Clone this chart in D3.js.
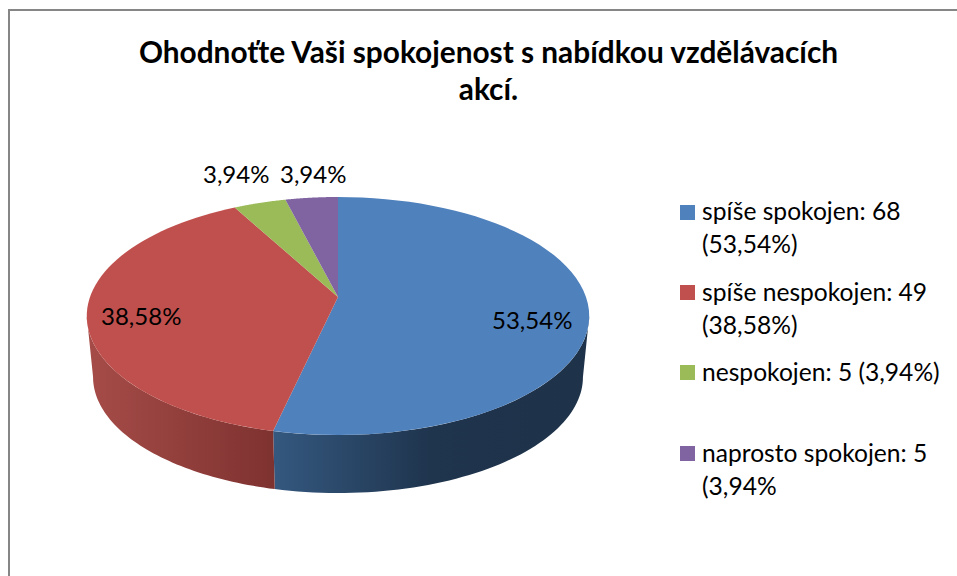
<!DOCTYPE html>
<html><head><meta charset="utf-8">
<style>html,body{margin:0;background:#fff}svg{display:block}text{font-family:Lato,"Noto Sans",sans-serif;fill:#000}</style>
<script src="https://cdn.jsdelivr.net/npm/d3@7/dist/d3.min.js"></script>
</head><body><svg id="c" width="957" height="576"></svg>
<script>
const categories = ["spíše spokojen","spíše nespokojen","nespokojen","naprosto spokojen"];
const values = [68,49,5,5];
const percentLabels = ["53,54%","38,58%","3,94%","3,94%"];
const legendLines = [["spíše spokojen: 68","(53,54%)"],["spíše nespokojen: 49","(38,58%)"],["nespokojen: 5 (3,94%)"],["naprosto spokojen: 5","(3,94%"]];
const titleLines = ["Ohodnoťte Vaši spokojenost s nabídkou vzdělávacích","akcí."];
const topColors = ["#4f81bd","#c0504d","#9bbb59","#8064a2"];

const svg = d3.select("#c");
const cx=338, cy=297, A=248, a=68.55, c=-0.1597, depthScale=0.975, vanishY=2756;
const proj = (t)=>{const x=Math.sin(t), y=-Math.cos(t), w=1+c*y; return [cx+A*x/w,(a*y+cy)/w];};
const low = p=>[cx+(p[0]-cx)*depthScale, vanishY+(p[1]-vanishY)*depthScale];
const arcPts=(t0,t1,f=p=>p)=>d3.range(0,61).map(i=>f(proj(t0+(t1-t0)*i/60)));
const line=d3.line();
const arcs=d3.pie().sort(null)(values);

// frame
svg.append("path").attr("d","M9 576V10H957").attr("fill","none").attr("stroke","#868686").attr("stroke-width",2);

// side gradients
const defs=svg.append("defs");
function grad(id,x1,x2,stops){
  const g=defs.append("linearGradient").attr("id",id).attr("gradientUnits","userSpaceOnUse").attr("x1",x1).attr("x2",x2).attr("y1",0).attr("y2",0);
  stops.forEach(s=>g.append("stop").attr("offset",s[0]).attr("stop-color",s[1]));
}
grad("side0",274,590,[[0,"#34587f"],[0.5,"#1f344d"],[1,"#1e3249"]]);
grad("side1",87,274,[[0,"#a64c48"],[1,"#7e3230"]]);

// sides (front part of the rim only, between the silhouette points of the disc)
const tangent=Math.acos(c), rimStart=tangent, rimEnd=2*Math.PI-tangent;
arcs.slice(0,2).forEach((d,i)=>{
  const t0=Math.max(d.startAngle,rimStart), t1=Math.min(d.endAngle,rimEnd);
  const pts=arcPts(t0,t1).concat(arcPts(t0,t1,low).reverse());
  svg.append("path").attr("d",line(pts)+"Z").attr("fill",`url(#side${i})`);
});
// top
arcs.forEach((d,i)=>{
  const pts=[[cx,cy]].concat(arcPts(d.startAngle,d.endAngle));
  svg.append("path").attr("d",line(pts)+"Z").attr("fill",topColors[i]);
});

// title
const titleY=[63,100];
svg.selectAll(".t").data(titleLines).join("text").attr("class","t")
  .attr("x",488.5).attr("y",(d,i)=>titleY[i]).attr("text-anchor","middle")
  .attr("font-size",29.8).attr("font-weight",700).text(d=>d);

// data labels
const labelPos=[[492,329],[101,325],[203,183],[280,183]];
svg.selectAll(".l").data(percentLabels).join("text").attr("class","l")
  .attr("x",(d,i)=>labelPos[i][0]).attr("y",(d,i)=>labelPos[i][1]).attr("font-size",24).text(d=>d);

// legend
const legendY=[205,285,365,446];
const firstBase=[220,301,381,462];
const lg=svg.selectAll(".g").data(categories).join("g").attr("class","g");
lg.append("rect").attr("x",680).attr("y",(d,i)=>legendY[i]).attr("width",15).attr("height",15).attr("fill",(d,i)=>topColors[i]);
lg.each(function(d,i){
  d3.select(this).selectAll("text").data(legendLines[i]).join("text")
    .attr("x",702).attr("y",(s,j)=>firstBase[i]+j*32.5).attr("font-size",24.6).text(s=>s);
});
</script></body></html>
